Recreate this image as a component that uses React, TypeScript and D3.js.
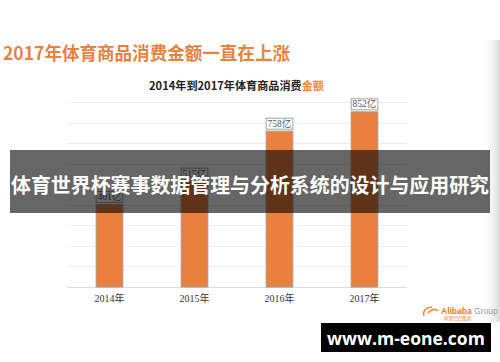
import React from 'react';
import * as d3 from 'd3';

const years = ['2014年', '2015年', '2016年', '2017年'];
const spending = [401, 515, 758, 852];
const gridTicks = [0, 100, 200, 300, 400, 500, 600, 700, 800, 900];

const W = 500;
const H = 362;
const sansCJK = '"Noto Sans CJK SC", "Noto Sans", sans-serif';
const serif = '"Liberation Serif", "DejaVu Serif", "Noto Sans CJK SC", serif';

const App = () => {
  const x = d3.scaleBand<string>()
    .domain(years)
    .range([67, 407])
    .paddingInner(0.686)
    .paddingOuter(0.343);

  const y = d3.scaleLinear()
    .domain([0, 900])
    .range([287, 102]);

  const bw = x.bandwidth();

  return (
    <div style={{ position: 'absolute', left: 0, top: 0, width: W, height: H }}>
      <svg width={W} height={H} style={{ display: 'block', background: '#fff' }}>
        <defs>
          <linearGradient id="edge" x1="0" x2="1" y1="0" y2="0">
            <stop offset="0" stopColor="#fff" stopOpacity={0} />
            <stop offset="1" stopColor="#d8d8d8" />
          </linearGradient>
        </defs>

        <rect x={482} y={40} width={18} height={282} fill="url(#edge)" />

        {/* headline */}
        <text x={3} y={60} fontFamily={sansCJK} fontWeight="bold" fontSize={18} fill="#E8833F"
          textLength={287} lengthAdjust="spacingAndGlyphs">
          2017年体育商品消费金额一直在上涨
        </text>

        {/* chart title */}
        <text x={149} y={90} fontFamily={sansCJK} fontWeight="bold" fontSize={11} fill="#222"
          textLength={175} lengthAdjust="spacingAndGlyphs">
          2014年到2017年体育商品消费<tspan fill="#EF8A3E">金额</tspan>
        </text>

        {/* grid */}
        {gridTicks.map(t => (
          <line key={t} x1={67} x2={407} y1={Math.round(y(t)) + 0.5} y2={Math.round(y(t)) + 0.5}
            stroke={t === 0 ? '#dcdcdc' : '#ececec'} strokeWidth={1} />
        ))}

        {/* bars */}
        {years.map((yr, i) => (
          <g key={yr}>
            <rect x={x(yr)} y={y(spending[i])} width={bw} height={y(0) - y(spending[i])}
              fill="#EA803D" stroke="#a39a94" strokeWidth={1} />
            <rect x={x(yr)} y={y(spending[i]) - 13} width={bw} height={11}
              fill="#fff" stroke="#8a8a8a" strokeWidth={0.8} />
            <text x={(x(yr) as number) + bw / 2} y={y(spending[i]) - 4.5} textAnchor="middle"
              fontFamily={serif} fontSize={9.5} fill="#555">
              {spending[i]}亿
            </text>
          </g>
        ))}

        {/* x labels */}
        {years.map(yr => (
          <text key={yr} x={(x(yr) as number) + bw / 2} y={302} textAnchor="middle"
            fontFamily={serif} fontSize={10} fill="#333">
            {yr}
          </text>
        ))}

        {/* overlay band */}
        <rect x={10} y={150} width={480} height={63} fill="#000" fillOpacity={0.6} />
        <text x={11} y={184} dominantBaseline="central"
          fontFamily={sansCJK} fontWeight="bold" fontSize={20.5} fill="#fff"
          textLength={478} lengthAdjust="spacingAndGlyphs">
          体育世界杯赛事数据管理与分析系统的设计与应用研究
        </text>

        {/* logo */}
        <path d="M424,316 q-2,-8 8,-9 M428,313 q6,-6 10,-2" fill="none" stroke="#EF8A3E" strokeWidth={1.6} />
        <text x={441} y={314} fontFamily='"Liberation Sans", Arial, sans-serif' fontWeight="bold"
          fontSize={8.5} fill="#EF7A1E">
          Alibaba<tspan fontWeight="normal" fill="#999"> Group</tspan>
        </text>
        <text x={444} y={320} fontFamily={sansCJK} fontSize={4.5} fill="#EF7A1E">阿里巴巴集团</text>

        {/* watermark */}
        <rect x={321} y={323} width={170} height={29} fill="#000" />
        <text x={406} y={338} textAnchor="middle" dominantBaseline="central"
          fontFamily='"Open Sans", "DejaVu Sans", sans-serif' fontWeight="bold" fontSize={17.5} fill="#fff">
          www.m-eone.com
        </text>
      </svg>
    </div>
  );
};

export default App;
